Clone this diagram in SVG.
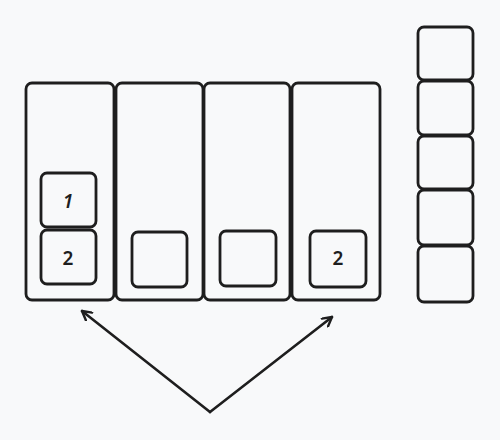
<svg xmlns="http://www.w3.org/2000/svg" width="500" height="440" viewBox="0 0 500 440">
<style>
.b{fill:none;stroke:#1e1e1e;stroke-width:2.8;stroke-linejoin:round}
.t{font-family:"Noto Sans","Liberation Sans",sans-serif;font-size:19px;font-weight:600;fill:#1e1e1e;text-anchor:middle;dominant-baseline:central}
.c{fill:none;stroke:#1e1e1e;stroke-width:2.6;stroke-linecap:round;stroke-linejoin:round}
</style>
<defs>
<marker id="ah" viewBox="0 0 12 12" refX="10" refY="6" markerWidth="12" markerHeight="12" markerUnits="userSpaceOnUse" orient="auto">
<path d="M1,1 L10,6 L1,11" fill="none" stroke="#1e1e1e" stroke-width="2.4" stroke-linecap="round" stroke-linejoin="round"/>
</marker>
</defs>
<rect width="500" height="440" fill="#f8f9fa"/>
<g id="col1"><rect class="b" x="26" y="83" width="88" height="217" rx="6"/></g>
<g id="col2"><rect class="b" x="116" y="83" width="87" height="217" rx="6"/></g>
<g id="col3"><rect class="b" x="204" y="83" width="86" height="217" rx="6"/></g>
<g id="col4"><rect class="b" x="292" y="83" width="88" height="217" rx="6"/></g>
<g id="box1"><rect class="b" x="41" y="173" width="55" height="54" rx="6"/><text class="t" x="68" y="201" font-style="italic">1</text></g>
<g id="box2"><rect class="b" x="41" y="230" width="55" height="54" rx="6"/><text class="t" x="68" y="258">2</text></g>
<g id="box3"><rect class="b" x="132" y="232" width="55" height="55" rx="6"/></g>
<g id="box4"><rect class="b" x="220" y="231" width="56" height="55" rx="6"/></g>
<g id="box5"><rect class="b" x="310" y="231" width="56" height="56" rx="6"/><text class="t" x="338" y="258">2</text></g>
<g id="s1"><rect class="b" x="418" y="27" width="55" height="53" rx="6"/></g>
<g id="s2"><rect class="b" x="418" y="81" width="55" height="54" rx="6"/></g>
<g id="s3"><rect class="b" x="418" y="136" width="55" height="53" rx="6"/></g>
<g id="s4"><rect class="b" x="418" y="190" width="55" height="55" rx="6"/></g>
<g id="s5"><rect class="b" x="418" y="246" width="55" height="56" rx="6"/></g>
<g id="connectors">
<path class="c" d="M210,412 L82,311" marker-end="url(#ah)"/>
<path class="c" d="M210,412 L332,317" marker-end="url(#ah)"/>
</g>
</svg>
